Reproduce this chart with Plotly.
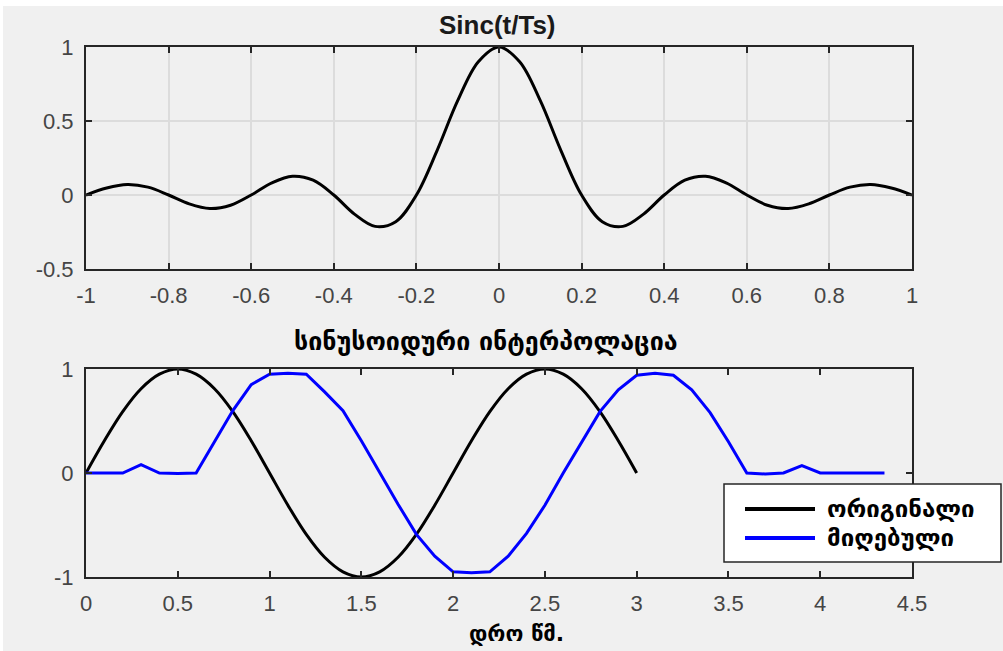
import plotly.graph_objects as go

# --- Sinc(t/Ts) kernel, Ts = 0.2 s ---
sinc_t = [round(-1 + 0.05 * i, 2) for i in range(41)]
sinc_half = [1.0, 0.900, 0.637, 0.300, 0.0, -0.180, -0.212, -0.129, 0.0, 0.100,
             0.127, 0.082, 0.0, -0.069, -0.091, -0.060, 0.0, 0.053, 0.071, 0.047, 0.0]
sinc_vals = sinc_half[:0:-1] + sinc_half

# --- original signal ---
orig_t = [round(0.1 * i, 1) for i in range(31)]
orig_vals = [0.0, 0.31, 0.59, 0.81, 0.95, 1.0, 0.95, 0.81, 0.59, 0.31,
             0.0, -0.31, -0.59, -0.81, -0.95, -1.0, -0.95, -0.81, -0.59, -0.31,
             0.0, 0.31, 0.59, 0.81, 0.95, 1.0, 0.95, 0.81, 0.59, 0.31, 0.0]

# --- reconstructed (received) signal ---
recv_t = [round(0.1 * i, 1) for i in range(44)] + [4.35]
recv_vals = [0.0, 0.0, 0.0, 0.08, 0.0, -0.005, 0.0, 0.30, 0.60, 0.85,
             0.95, 0.96, 0.95, 0.78, 0.60, 0.31, 0.0, -0.30, -0.59, -0.80,
             -0.95, -0.96, -0.95, -0.80, -0.58, -0.31, 0.0, 0.30, 0.59, 0.80,
             0.94, 0.96, 0.94, 0.80, 0.58, 0.30, 0.0, -0.01, 0.0, 0.07,
             0.0, 0.0, 0.0, 0.0, 0.0]

top_xticks = [-1, -0.8, -0.6, -0.4, -0.2, 0, 0.2, 0.4, 0.6, 0.8, 1]
top_xlabels = ["-1", "-0.8", "-0.6", "-0.4", "-0.2", "0", "0.2", "0.4", "0.6", "0.8", "1"]
top_yticks = [-0.5, 0, 0.5, 1]
top_ylabels = ["-0.5", "0", "0.5", "1"]
bot_xticks = [0, 0.5, 1, 1.5, 2, 2.5, 3, 3.5, 4, 4.5]
bot_xlabels = ["0", "0.5", "1", "1.5", "2", "2.5", "3", "3.5", "4", "4.5"]
bot_yticks = [-1, 0, 1]
bot_ylabels = ["-1", "0", "1"]

legend_names = ["ორიგინალი", "მიღებული"]
legend_colors = ["#000000", "#0000ff"]

W, H = 1003, 651
LATIN = "Liberation Sans, Arial, sans-serif"
TICK_FONT = dict(family=LATIN, size=22, color="#454545")
GEO_FONT = "DejaVu Sans, sans-serif"
AX_LINE = "#262626"


def px_x(p):
    return p / W


def px_y(p):
    return 1 - p / H


fig = go.Figure()
fig.add_trace(go.Scatter(x=sinc_t, y=sinc_vals, mode="lines", line_shape="spline",
                         line=dict(color="#000000", width=3), xaxis="x", yaxis="y",
                         showlegend=False, hoverinfo="skip"))
fig.add_trace(go.Scatter(x=orig_t, y=orig_vals, mode="lines", line_shape="spline",
                         name=legend_names[0], line=dict(color=legend_colors[0], width=3),
                         xaxis="x2", yaxis="y2", showlegend=False))
fig.add_trace(go.Scatter(x=recv_t, y=recv_vals, mode="lines",
                         name=legend_names[1], line=dict(color=legend_colors[1], width=3),
                         xaxis="x2", yaxis="y2", showlegend=False))

common = dict(showline=True, linecolor=AX_LINE, linewidth=2, mirror="ticks",
              ticks="inside", ticklen=6, tickwidth=2, tickcolor=AX_LINE,
              tickfont=TICK_FONT, zeroline=False, fixedrange=True,
              automargin=False)

fig.update_layout(
    width=W, height=H,
    margin=dict(l=0, r=0, t=0, b=0, pad=0, autoexpand=False),
    paper_bgcolor="#ffffff",
    plot_bgcolor="#ffffff",
    xaxis=dict(domain=[px_x(86), px_x(912)], range=[-1, 1], anchor="y",
               tickvals=top_xticks, ticktext=top_xlabels,
               showgrid=True, gridcolor="#dcdcdc", gridwidth=1.5,
               ticklabelstandoff=6, **common),
    yaxis=dict(domain=[px_y(269), px_y(47)], range=[-0.5, 1], anchor="x",
               tickvals=top_yticks, ticktext=top_ylabels,
               showgrid=True, gridcolor="#dcdcdc", gridwidth=1.5,
               ticklabelstandoff=6, **common),
    xaxis2=dict(domain=[px_x(86), px_x(912)], range=[0, 4.5], anchor="y2",
                tickvals=bot_xticks, ticktext=bot_xlabels, showgrid=False,
                ticklabelstandoff=6, **common),
    yaxis2=dict(domain=[px_y(577), px_y(369)], range=[-1, 1], anchor="x2",
                tickvals=bot_yticks, ticktext=bot_ylabels, showgrid=False,
                ticklabelstandoff=6, **common),
    showlegend=False,
)

# figure background panel (white rim on top/left)
fig.add_shape(type="rect", xref="paper", yref="paper",
              x0=px_x(3), x1=1.0, y0=0.0, y1=px_y(6),
              fillcolor="#f0f0f0", line=dict(width=0), layer="below")

# titles and x label
fig.add_annotation(text="<b>Sinc(t/Ts)</b>", xref="paper", yref="paper",
                   x=px_x(497), y=px_y(25), xanchor="center", yanchor="middle",
                   showarrow=False, font=dict(family=LATIN, size=26, color="#1a1a1a"))
fig.add_annotation(text="<b>სინუსოიდური ინტერპოლაცია</b>", xref="paper", yref="paper",
                   x=px_x(486), y=px_y(342), xanchor="center", yanchor="middle",
                   showarrow=False, font=dict(family=GEO_FONT, size=25, color="#000000"))
fig.add_annotation(text="<b>დრო წმ.</b>", xref="paper", yref="paper",
                   x=px_x(516), y=px_y(633), xanchor="center", yanchor="middle",
                   showarrow=False, font=dict(family=GEO_FONT, size=22, color="#000000"))

# legend box for the lower panel
fig.add_shape(type="rect", xref="paper", yref="paper",
              x0=px_x(724), x1=px_x(1001), y0=px_y(562), y1=px_y(484),
              fillcolor="#ffffff", line=dict(color="#262626", width=1.5))
for i, (name, col) in enumerate(zip(legend_names, legend_colors)):
    yy = px_y(509 + 29 * i)
    fig.add_shape(type="line", xref="paper", yref="paper",
                  x0=px_x(745), x1=px_x(815), y0=yy, y1=yy,
                  line=dict(color=col, width=4))
    fig.add_annotation(text="<b>" + name + "</b>", xref="paper", yref="paper",
                       x=px_x(825), y=yy, xanchor="left", yanchor="middle",
                       showarrow=False,
                       font=dict(family=GEO_FONT, size=24, color="#000000"))

fig.write_html("out.html",
               post_script="document.body.style.margin='0';"
                           "document.body.style.overflow='hidden';")
